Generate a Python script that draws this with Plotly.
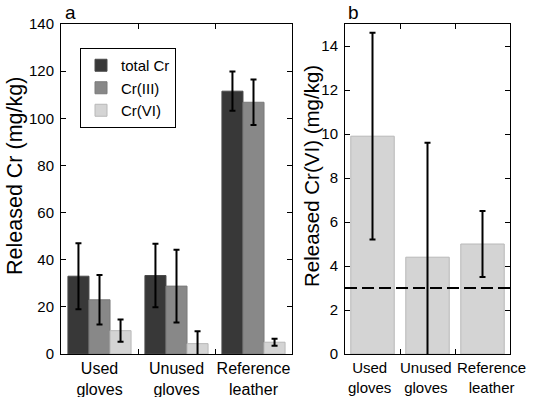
import plotly.graph_objects as go

categories = ["Used<br>gloves", "Unused<br>gloves", "Reference<br>leather"]
series_names = ["total Cr", "Cr(III)", "Cr(VI)"]
total_cr = [33.0, 33.3, 111.5]
total_cr_err = [14.0, 13.5, 8.3]
cr3 = [23.0, 28.8, 106.8]
cr3_err = [10.5, 15.4, 9.7]
cr6 = [9.9, 4.4, 5.0]
cr6_err = [4.7, 5.2, 1.5]
threshold = 3.0

colors = ["#383838", "#888888", "#d4d4d4"]
lines = ["#4a4a4a", "#7a7a7a", "#b8b8b8"]

FONT = "Liberation Sans, Arial, sans-serif"
W, H = 535, 397


def px(X):
    return X / W


def py(Y):
    return 1 - Y / H


fig = go.Figure()

for name, vals, errs, c, lc in zip(series_names, [total_cr, cr3, cr6],
                                   [total_cr_err, cr3_err, cr6_err], colors, lines):
    fig.add_trace(go.Bar(
        x=categories, y=vals, name=name, xaxis="x", yaxis="y",
        marker=dict(color=c, line=dict(color=lc, width=1)),
        error_y=dict(type="data", array=errs, color="black", thickness=2, width=3),
    ))

fig.add_trace(go.Bar(
    x=categories, y=cr6, name="Cr(VI) b", xaxis="x2", yaxis="y2", showlegend=False,
    width=0.79,
    marker=dict(color="#d4d4d4", line=dict(color="#b8b8b8", width=1)),
    error_y=dict(type="data", array=cr6_err, color="black", thickness=2, width=3),
))
fig.add_trace(go.Scatter(
    x=[-0.5, 2.5], y=[threshold, threshold], mode="lines", xaxis="x3", yaxis="y2",
    showlegend=False, line=dict(color="black", width=2, dash="12px,5px"),
))

axis_common = dict(showline=True, linecolor="black", linewidth=1, mirror="ticks",
                   ticks="inside", ticklen=5, tickcolor="black", showgrid=False,
                   zeroline=False, automargin=False)
yfont = dict(size=15, color="black", family=FONT)

TOP, BOT = py(24), py(354)

annotations = [
    dict(text="a", x=px(63), y=py(12.5), xref="paper", yref="paper", xanchor="left",
         yanchor="middle", showarrow=False, font=dict(size=19)),
    dict(text="b", x=px(346), y=py(12.5), xref="paper", yref="paper", xanchor="left",
         yanchor="middle", showarrow=False, font=dict(size=19)),
    dict(text="Released Cr (mg/kg)", textangle=-90, x=px(15),
         y=py(176), xref="paper", yref="paper",
         xanchor="center", yanchor="middle", showarrow=False, font=dict(size=21.5)),
    dict(text="Released Cr(VI) (mg/kg)", textangle=-90, x=px(311),
         y=py(176), xref="paper", yref="paper",
         xanchor="center", yanchor="middle", showarrow=False, font=dict(size=20.5)),
]
# panel b category labels: crowded, so placed at each category with a small nudge
for cat, shift in zip(categories, [-3.5, -1.5, 8.5]):
    annotations.append(dict(
        text=cat, x=cat, xref="x2", y=py(357), yref="paper", xanchor="center",
        yanchor="top", xshift=shift, showarrow=False,
        font=dict(size=15, color="black", family=FONT)))

fig.update_layout(
    width=W, height=H,
    margin=dict(l=0, r=0, t=0, b=0),
    paper_bgcolor="white", plot_bgcolor="white",
    hovermode=False,
    barmode="group", bargap=0.18, bargroupgap=0.0,
    font=dict(family=FONT, color="black"),
    xaxis=dict(domain=[px(61), px(292)], anchor="y", type="category", tickson="boundaries",
               range=[-0.5, 2.5], tickangle=0,
               tickfont=dict(size=16, color="black", family=FONT), **axis_common),
    yaxis=dict(domain=[BOT, TOP], anchor="x", range=[0, 140], dtick=20,
               tickfont=yfont, ticklabelstandoff=3, **axis_common),
    xaxis2=dict(domain=[px(345), px(510)], anchor="y2", type="category",
                tickson="boundaries", range=[-0.5, 2.5], showticklabels=False,
                **axis_common),
    xaxis3=dict(domain=[px(345), px(510)], anchor="y2", overlaying="x2", range=[-0.5, 2.5],
                visible=False),
    yaxis2=dict(domain=[BOT, TOP], anchor="x2", range=[0, 15], dtick=2,
                tickfont=yfont, ticklabelstandoff=3, **axis_common),
    legend=dict(x=px(80), y=py(48), xanchor="left", yanchor="top",
                bordercolor="black", borderwidth=1, bgcolor="white",
                font=dict(size=15, color="black"), tracegroupgap=0,
                itemwidth=30),
    annotations=annotations,
)

# remove the browser's default 8px body margin so the figure fills the window exactly
fig.write_html("out.html", config={"displayModeBar": False},
               post_script="document.body.style.margin='0';")
